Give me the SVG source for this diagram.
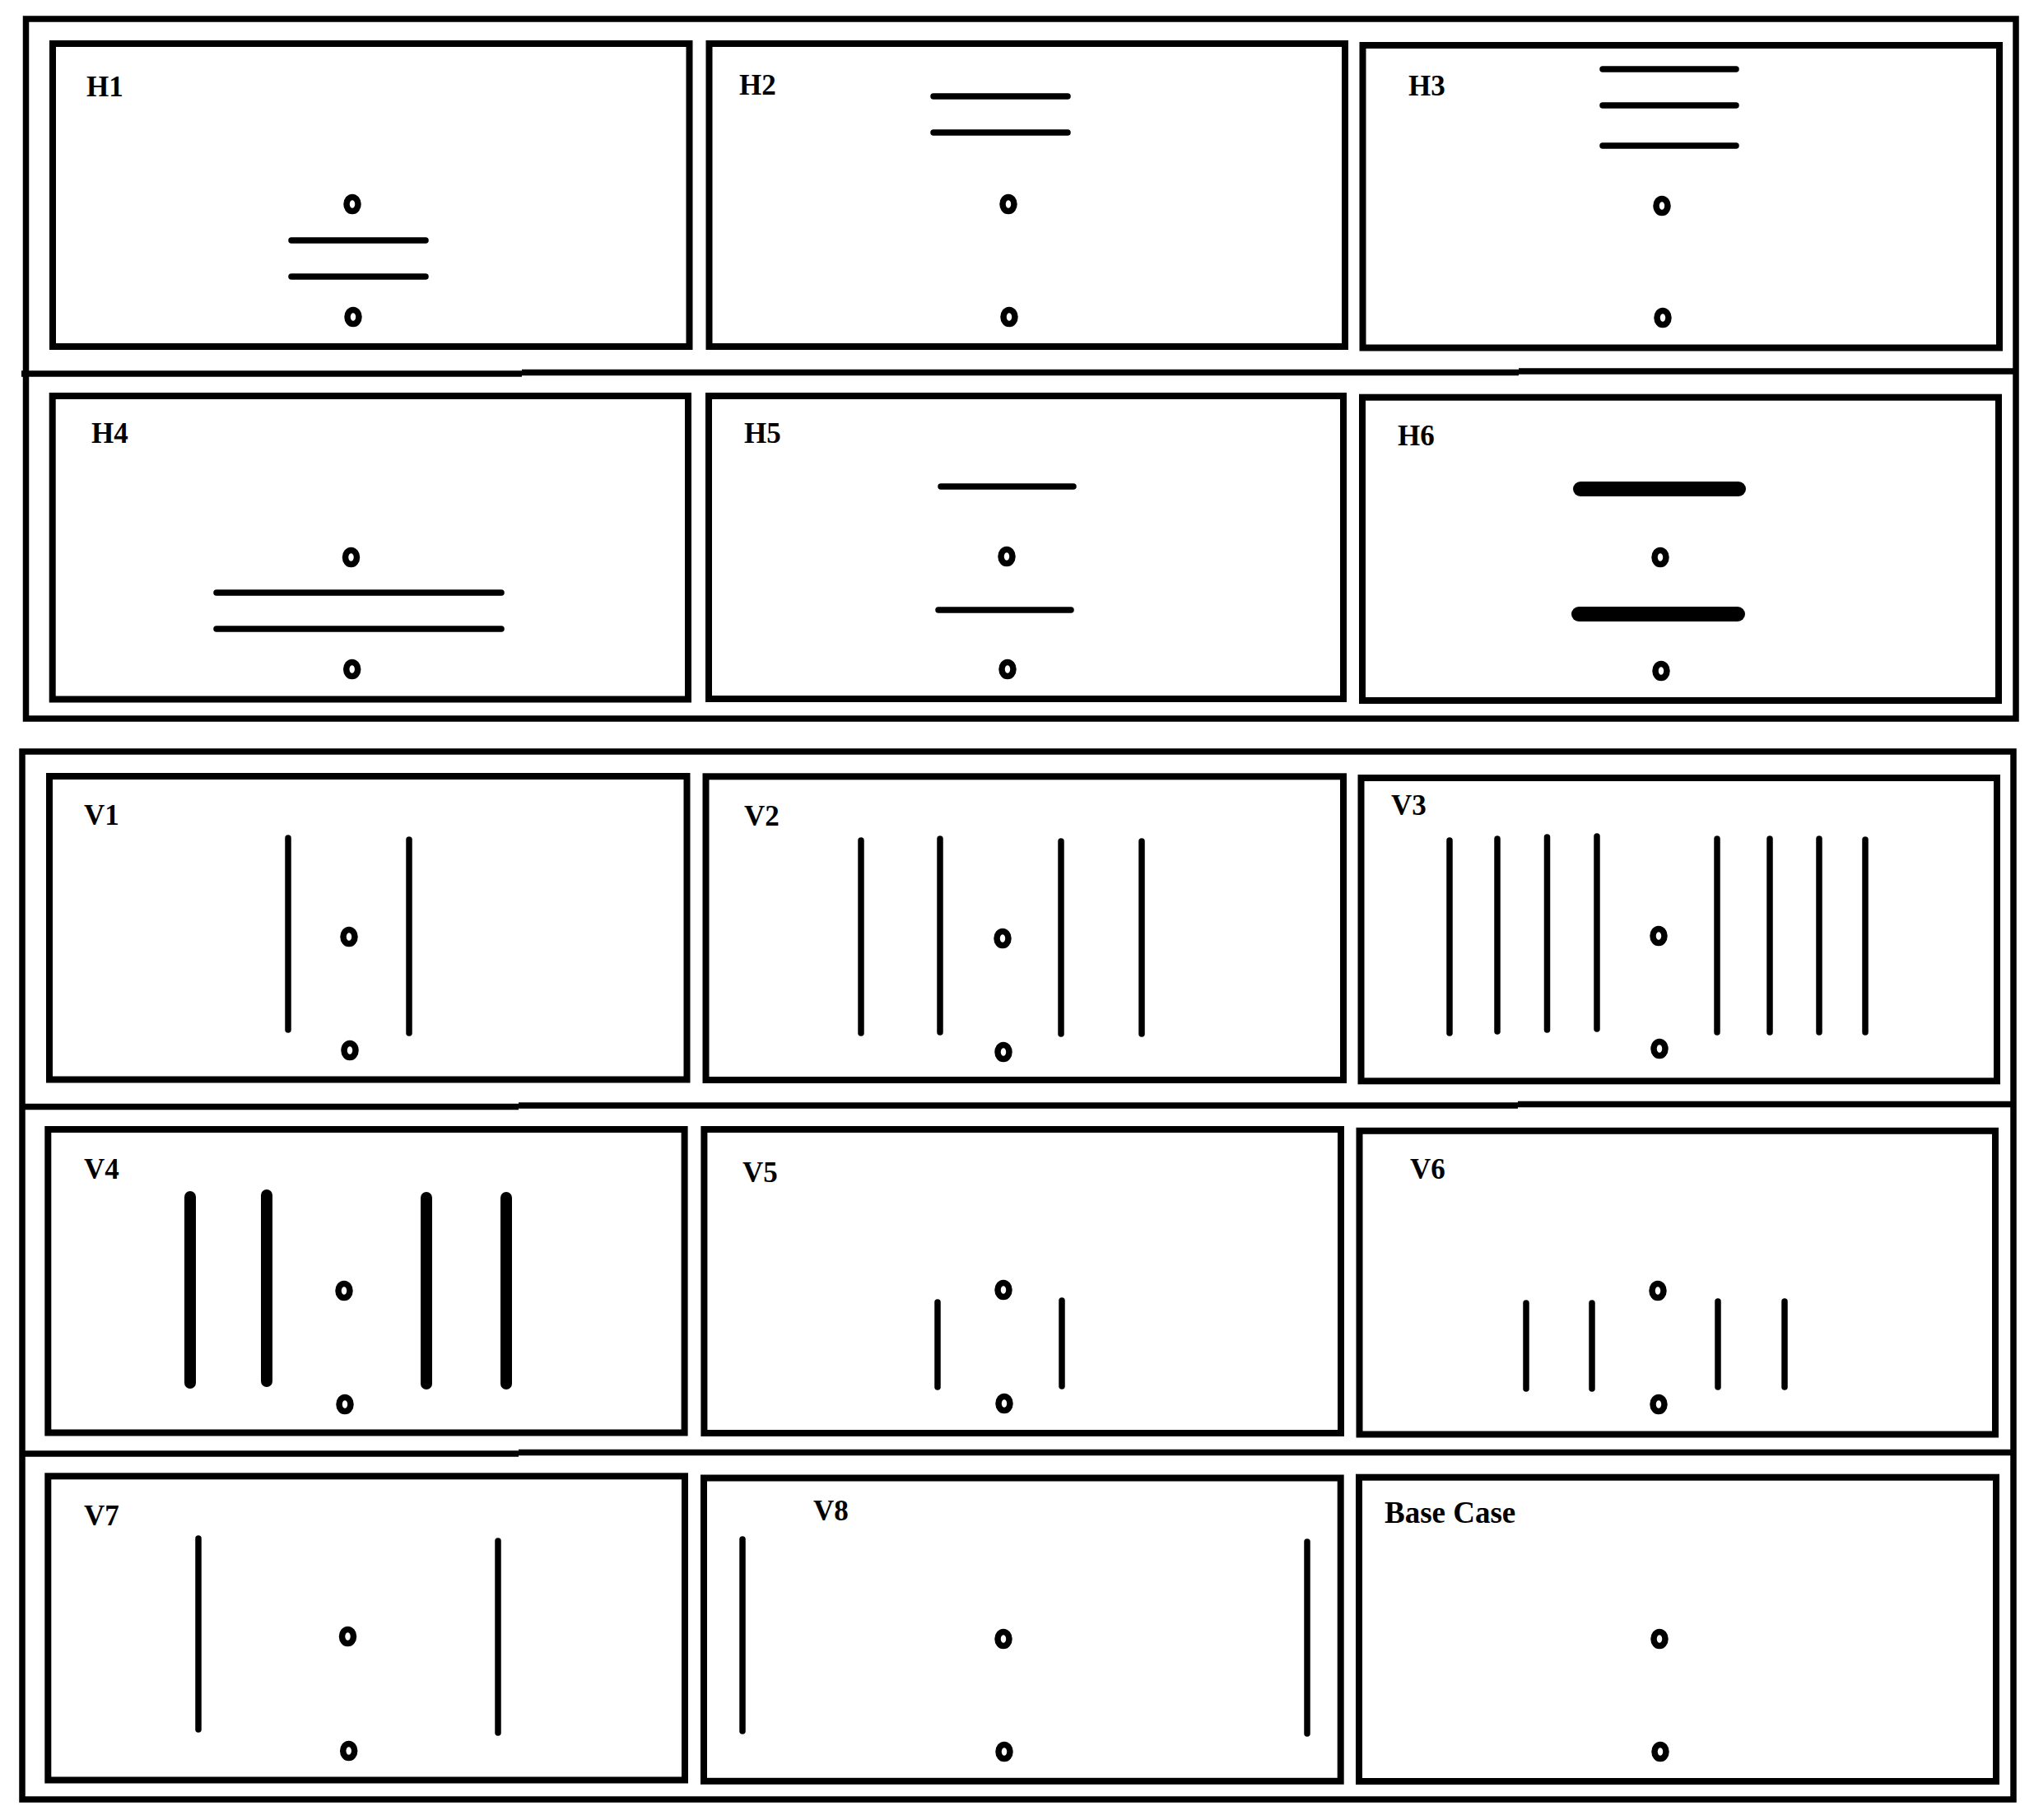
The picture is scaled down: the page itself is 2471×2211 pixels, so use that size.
<svg xmlns="http://www.w3.org/2000/svg" width="2471" height="2211" viewBox="0 0 2471 2211">
<style>
.frame{fill:none;stroke:#000;stroke-width:7.5}
.sep{stroke:#000;stroke-width:7.5;fill:none}
.box{fill:none;stroke:#000;stroke-width:8}
.lbl{font-family:"Liberation Serif","Times New Roman",serif;font-weight:bold;font-size:35px;fill:#000}
.pt{fill:none;stroke:#000;stroke-width:7.5}
.ln{stroke:#000;stroke-width:7.5;stroke-linecap:round;fill:none}
.thk{stroke:#000;stroke-width:14;stroke-linecap:round;fill:none}
.hvy{stroke:#000;stroke-width:18;stroke-linecap:round;fill:none}
</style>
<defs>
<g id="dot"><ellipse class="pt" cx="0" cy="0" rx="7" ry="8.5"/></g>
</defs>
<rect width="2471" height="2211" fill="#fff"/>
<g id="frames">
<path class="frame" d="M31.5,23 H2449 V873 H31.5 Z"/>
<path class="sep" d="M26,454 H634 M634,452.5 H1845 M1845,451 H2449"/>
<path class="frame" d="M27,913 H2446 V2186 H27 Z"/>
<path class="sep" d="M26,1344.5 H630 M630,1343 H1844 M1844,1341.5 H2446"/>
<path class="sep" d="M26,1766 H630 M630,1764.5 H2446"/>
</g>
<g id="connectors"></g>
<g id="H1">
<rect class="box" x="64" y="53" width="773.5" height="368"/>
<text class="lbl" x="105" y="117">H1</text>
<line class="ln" x1="354" y1="292" x2="517" y2="292"/>
<line class="ln" x1="354" y1="336" x2="517" y2="336"/>
<use href="#dot" x="428" y="248"/><use href="#dot" x="429" y="385"/>
</g>
<g id="H2">
<rect class="box" x="861.5" y="53" width="772.5" height="368"/>
<text class="lbl" x="898" y="115">H2</text>
<line class="ln" x1="1134" y1="117" x2="1297" y2="117"/>
<line class="ln" x1="1134" y1="161" x2="1297" y2="161"/>
<use href="#dot" x="1225" y="248"/><use href="#dot" x="1226" y="385"/>
</g>
<g id="H3">
<rect class="box" x="1655.5" y="55" width="773.5" height="367.5"/>
<text class="lbl" x="1711" y="116">H3</text>
<line class="ln" x1="1947" y1="84" x2="2109" y2="84"/>
<line class="ln" x1="1947" y1="128" x2="2109" y2="128"/>
<line class="ln" x1="1947" y1="177" x2="2109" y2="177"/>
<use href="#dot" x="2019" y="250"/><use href="#dot" x="2020" y="386"/>
</g>
<g id="H4">
<rect class="box" x="63.7" y="481" width="772.3" height="368.5"/>
<text class="lbl" x="111" y="538">H4</text>
<line class="ln" x1="263" y1="720" x2="609" y2="720"/>
<line class="ln" x1="263" y1="764" x2="609" y2="764"/>
<use href="#dot" x="426.5" y="677"/><use href="#dot" x="427.7" y="813"/>
</g>
<g id="H5">
<rect class="box" x="861" y="481" width="771" height="368"/>
<text class="lbl" x="904" y="538">H5</text>
<line class="ln" x1="1143" y1="591" x2="1304" y2="591"/>
<line class="ln" x1="1140" y1="741" x2="1301" y2="741"/>
<use href="#dot" x="1223" y="676"/><use href="#dot" x="1224" y="813"/>
</g>
<g id="H6">
<rect class="box" x="1655" y="482.7" width="773" height="368.3"/>
<text class="lbl" x="1698" y="541">H6</text>
<line class="hvy" x1="1920" y1="594" x2="2112" y2="594"/>
<line class="hvy" x1="1918" y1="746" x2="2111" y2="746"/>
<use href="#dot" x="2017" y="677"/><use href="#dot" x="2018" y="815"/>
</g>
<g id="V1">
<rect class="box" x="60" y="943" width="774.5" height="368.5"/>
<text class="lbl" x="102" y="1002">V1</text>
<line class="ln" x1="350" y1="1018" x2="350" y2="1251"/>
<line class="ln" x1="497" y1="1020" x2="497" y2="1255"/>
<use href="#dot" x="424" y="1138"/><use href="#dot" x="425" y="1276"/>
</g>
<g id="V2">
<rect class="box" x="857.5" y="943.3" width="774.5" height="368.7"/>
<text class="lbl" x="904" y="1003">V2</text>
<line class="ln" x1="1046" y1="1021" x2="1046" y2="1255"/>
<line class="ln" x1="1142" y1="1019" x2="1142" y2="1254"/>
<line class="ln" x1="1289" y1="1022" x2="1289" y2="1256"/>
<line class="ln" x1="1387" y1="1022" x2="1387" y2="1256"/>
<use href="#dot" x="1218" y="1140"/><use href="#dot" x="1219" y="1278"/>
</g>
<g id="V3">
<rect class="box" x="1653.5" y="945" width="772.5" height="368.3"/>
<text class="lbl" x="1690" y="990">V3</text>
<line class="ln" x1="1761" y1="1021" x2="1761" y2="1255"/>
<line class="ln" x1="1819" y1="1019" x2="1819" y2="1253"/>
<line class="ln" x1="1879.5" y1="1017" x2="1879.5" y2="1251"/>
<line class="ln" x1="1940" y1="1016" x2="1940" y2="1250"/>
<line class="ln" x1="2086" y1="1019" x2="2086" y2="1254"/>
<line class="ln" x1="2150" y1="1019" x2="2150" y2="1254"/>
<line class="ln" x1="2210" y1="1019" x2="2210" y2="1254"/>
<line class="ln" x1="2266" y1="1020" x2="2266" y2="1254"/>
<use href="#dot" x="2015" y="1137"/><use href="#dot" x="2016" y="1274"/>
</g>
<g id="V4">
<rect class="box" x="58.3" y="1372" width="773.3" height="368.5"/>
<text class="lbl" x="102" y="1432">V4</text>
<line class="thk" x1="231" y1="1454" x2="231" y2="1680"/>
<line class="thk" x1="324" y1="1452" x2="324" y2="1678"/>
<line class="thk" x1="518" y1="1455" x2="518" y2="1681"/>
<line class="thk" x1="615" y1="1455" x2="615" y2="1681"/>
<use href="#dot" x="418" y="1568"/><use href="#dot" x="419" y="1706"/>
</g>
<g id="V5">
<rect class="box" x="855.4" y="1372" width="773.6" height="369"/>
<text class="lbl" x="902" y="1436">V5</text>
<line class="ln" x1="1139" y1="1582" x2="1139" y2="1685"/>
<line class="ln" x1="1290" y1="1580" x2="1290" y2="1684"/>
<use href="#dot" x="1219" y="1567"/><use href="#dot" x="1220" y="1705"/>
</g>
<g id="V6">
<rect class="box" x="1651.5" y="1373.8" width="772.5" height="368.7"/>
<text class="lbl" x="1713" y="1432">V6</text>
<line class="ln" x1="1854" y1="1583" x2="1854" y2="1687"/>
<line class="ln" x1="1934" y1="1583" x2="1934" y2="1687"/>
<line class="ln" x1="2087" y1="1581" x2="2087" y2="1685"/>
<line class="ln" x1="2168" y1="1581" x2="2168" y2="1685"/>
<use href="#dot" x="2014" y="1568"/><use href="#dot" x="2015" y="1706"/>
</g>
<g id="V7">
<rect class="box" x="58.3" y="1793.3" width="773.7" height="369.2"/>
<text class="lbl" x="102" y="1853">V7</text>
<line class="ln" x1="241" y1="1869" x2="241" y2="2101"/>
<line class="ln" x1="605" y1="1872" x2="605" y2="2105"/>
<use href="#dot" x="422.5" y="1988"/><use href="#dot" x="423.7" y="2127"/>
</g>
<g id="V8">
<rect class="box" x="855" y="1795.5" width="773.7" height="368.3"/>
<text class="lbl" x="988" y="1847">V8</text>
<line class="ln" x1="902" y1="1870" x2="902" y2="2103"/>
<line class="ln" x1="1588" y1="1873" x2="1588" y2="2106"/>
<use href="#dot" x="1219" y="1991"/><use href="#dot" x="1220" y="2128"/>
</g>
<g id="BaseCase">
<rect class="box" x="1651" y="1794.7" width="774" height="369.3"/>
<text class="lbl" x="1682" y="1850" style="font-size:37px">Base Case</text>
<use href="#dot" x="2016" y="1991"/><use href="#dot" x="2017" y="2128"/>
</g>
</svg>
